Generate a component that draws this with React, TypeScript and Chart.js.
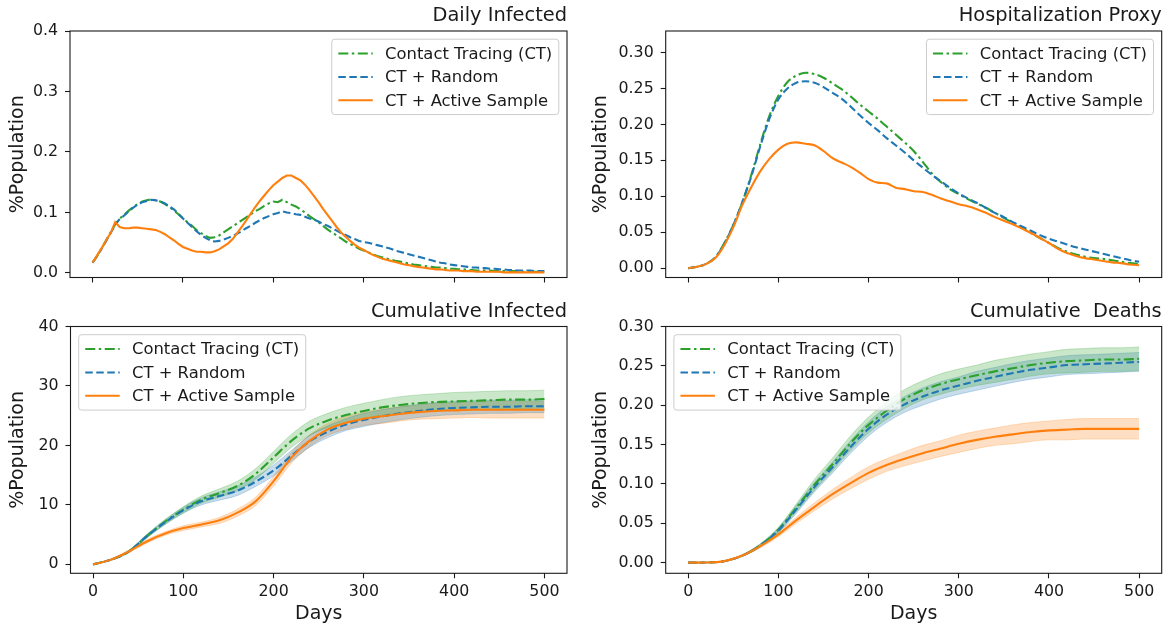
import React, { useEffect, useRef } from "react";
import { Chart, registerables } from "chart.js";

Chart.register(...registerables);

// ---------------- data ----------------
const SERIES_LABELS = ["Contact Tracing (CT)", "CT + Random", "CT + Active Sample"];
const X_TICKS = [0, 100, 200, 300, 400, 500];

const DAYS_5 = [
  0, 5, 10, 15, 20, 25, 30, 35, 40, 45, 50, 55, 60, 65, 70, 75, 80, 85, 90, 95,
  100, 105, 110, 115, 120, 125, 130, 135, 140, 145, 150, 155, 160, 165, 170, 175, 180, 185, 190, 195,
  200, 205, 210, 215, 220, 225, 230, 235, 240, 245, 250, 255, 260, 265, 270, 275, 280, 285, 290, 295,
  300, 305, 310, 315, 320, 325, 330, 335, 340, 345, 350, 355, 360, 365, 370, 375, 380, 385, 390, 395,
  400, 405, 410, 415, 420, 425, 430, 435, 440, 445, 450, 455, 460, 465, 470, 475, 480, 485, 490, 495, 500,
];
const DAYS_10 = [
  0, 10, 20, 30, 40, 50, 60, 70, 80, 90, 100, 110, 120, 130, 140, 150, 160, 170, 180, 190,
  200, 210, 220, 230, 240, 250, 260, 270, 280, 290, 300, 310, 320, 330, 340, 350, 360, 370, 380, 390,
  400, 410, 420, 430, 440, 450, 460, 470, 480, 490, 500,
];
const DAYS_20 = [
  0, 20, 40, 60, 80, 100, 120, 140, 160, 180, 200, 220, 240, 260, 280, 300, 320, 340, 360, 380,
  400, 420, 440, 460, 480, 500,
];

// Daily Infected (%Population), every 5 days
const DI_CT = [
  0.017, 0.028, 0.040, 0.054, 0.067, 0.080, 0.090, 0.096, 0.103, 0.109,
  0.114, 0.118, 0.120, 0.122, 0.120, 0.118, 0.114, 0.109, 0.103, 0.097,
  0.090, 0.084, 0.078, 0.071, 0.066, 0.061, 0.058, 0.059, 0.062, 0.067,
  0.072, 0.077, 0.082, 0.087, 0.092, 0.097, 0.102, 0.106, 0.111, 0.115,
  0.118, 0.117, 0.121, 0.117, 0.113, 0.110, 0.105, 0.100, 0.094, 0.089,
  0.084, 0.078, 0.072, 0.067, 0.062, 0.057, 0.052, 0.048, 0.044, 0.040,
  0.037, 0.034, 0.031, 0.028, 0.026, 0.024, 0.022, 0.020, 0.019, 0.017,
  0.016, 0.014, 0.013, 0.012, 0.011, 0.010, 0.009, 0.009, 0.008, 0.007,
  0.007, 0.006, 0.006, 0.005, 0.005, 0.004, 0.004, 0.004, 0.004, 0.003,
  0.003, 0.003, 0.003, 0.003, 0.003, 0.002, 0.002, 0.002, 0.002, 0.002,
  0.002,
];
const DI_RANDOM = [
  0.017, 0.028, 0.040, 0.053, 0.066, 0.080, 0.089, 0.095, 0.102, 0.108,
  0.113, 0.117, 0.119, 0.121, 0.120, 0.118, 0.115, 0.110, 0.105, 0.098,
  0.090, 0.083, 0.076, 0.069, 0.063, 0.058, 0.054, 0.052, 0.053, 0.055,
  0.058, 0.061, 0.065, 0.069, 0.074, 0.078, 0.083, 0.087, 0.091, 0.094,
  0.097, 0.099, 0.102, 0.100, 0.099, 0.097, 0.096, 0.093, 0.090, 0.088,
  0.085, 0.081, 0.078, 0.074, 0.070, 0.066, 0.063, 0.059, 0.056, 0.053,
  0.051, 0.050, 0.048, 0.046, 0.044, 0.042, 0.040, 0.037, 0.035, 0.033,
  0.031, 0.029, 0.027, 0.025, 0.023, 0.021, 0.019, 0.017, 0.016, 0.014,
  0.013, 0.012, 0.011, 0.010, 0.009, 0.009, 0.008, 0.008, 0.007, 0.007,
  0.006, 0.006, 0.005, 0.005, 0.004, 0.004, 0.004, 0.004, 0.003, 0.003,
  0.003,
];
const DI_ACTIVE = [
  0.017, 0.029, 0.041, 0.054, 0.066, 0.084, 0.076, 0.074, 0.074, 0.075,
  0.075, 0.074, 0.073, 0.072, 0.071, 0.068, 0.064, 0.059, 0.054, 0.048,
  0.043, 0.040, 0.037, 0.035, 0.035, 0.034, 0.034, 0.036, 0.039, 0.044,
  0.049, 0.056, 0.066, 0.076, 0.087, 0.098, 0.109, 0.119, 0.128, 0.137,
  0.145, 0.151, 0.157, 0.161, 0.161, 0.157, 0.153, 0.146, 0.137, 0.127,
  0.117, 0.106, 0.096, 0.086, 0.076, 0.067, 0.060, 0.053, 0.047, 0.042,
  0.038, 0.034, 0.030, 0.027, 0.024, 0.022, 0.020, 0.018, 0.016, 0.014,
  0.013, 0.011, 0.010, 0.009, 0.008, 0.007, 0.006, 0.006, 0.005, 0.004,
  0.004, 0.004, 0.003, 0.003, 0.003, 0.002, 0.002, 0.002, 0.002, 0.002,
  0.002, 0.001, 0.001, 0.001, 0.001, 0.001, 0.001, 0.001, 0.001, 0.001,
  0.001,
];

// Hospitalization Proxy, every 10 days
const HP_CT = [
  0.000, 0.002, 0.006, 0.015, 0.035, 0.060, 0.092, 0.130, 0.173, 0.212,
  0.240, 0.259, 0.268, 0.272, 0.270, 0.265, 0.257, 0.249, 0.239, 0.228,
  0.218, 0.208, 0.197, 0.186, 0.175, 0.163, 0.148, 0.132, 0.120, 0.110,
  0.103, 0.096, 0.090, 0.084, 0.077, 0.070, 0.063, 0.056, 0.049, 0.042,
  0.035, 0.028, 0.023, 0.019, 0.016, 0.014, 0.013, 0.011, 0.009, 0.007,
  0.006,
];
const HP_RANDOM = [
  0.000, 0.002, 0.006, 0.015, 0.034, 0.060, 0.092, 0.128, 0.170, 0.208,
  0.235, 0.250, 0.258, 0.260, 0.258, 0.252, 0.244, 0.236, 0.225, 0.213,
  0.202, 0.192, 0.181, 0.171, 0.161, 0.150, 0.140, 0.130, 0.121, 0.112,
  0.104, 0.097, 0.091, 0.084, 0.077, 0.071, 0.064, 0.058, 0.052, 0.046,
  0.041, 0.037, 0.033, 0.029, 0.026, 0.023, 0.020, 0.017, 0.014, 0.011,
  0.009,
];
const HP_ACTIVE = [
  0.000, 0.002, 0.006, 0.014, 0.032, 0.057, 0.088, 0.113, 0.135, 0.152,
  0.165, 0.173, 0.175, 0.173, 0.171, 0.163, 0.153, 0.147, 0.141, 0.133,
  0.124, 0.119, 0.118, 0.112, 0.110, 0.107, 0.106, 0.102, 0.097, 0.093,
  0.089, 0.086, 0.082, 0.077, 0.071, 0.066, 0.061, 0.055, 0.049, 0.042,
  0.035, 0.027, 0.021, 0.017, 0.014, 0.012, 0.010, 0.008, 0.007, 0.005,
  0.004,
];

// Cumulative Infected, every 20 days (mean and spread)
const CI_CT = [0, 0.8, 2.2, 4.8, 7.2, 9.2, 10.9, 12.0, 13.2, 15.2, 18.0, 20.8, 22.9, 24.2, 25.1, 25.8, 26.4, 26.8, 27.1, 27.3, 27.4, 27.5, 27.6, 27.7, 27.7, 27.8];
const CI_RANDOM = [0, 0.8, 2.2, 4.8, 7.1, 9.1, 10.6, 11.5, 12.4, 13.9, 15.8, 18.3, 20.7, 22.3, 23.5, 24.3, 24.9, 25.4, 25.8, 26.1, 26.3, 26.4, 26.5, 26.5, 26.6, 26.6];
const CI_ACTIVE = [0, 0.8, 2.2, 3.9, 5.2, 6.1, 6.7, 7.4, 8.7, 10.6, 14.0, 18.0, 20.8, 22.7, 23.8, 24.5, 24.9, 25.3, 25.6, 25.8, 25.9, 26.0, 26.0, 26.0, 26.0, 26.0];
const CI_CT_SD = [0, 0.1, 0.2, 0.3, 0.4, 0.5, 0.6, 0.7, 0.8, 0.9, 1.0, 1.1, 1.2, 1.2, 1.3, 1.3, 1.3, 1.4, 1.4, 1.4, 1.5, 1.5, 1.5, 1.5, 1.5, 1.5];
const CI_RANDOM_SD = [0, 0.1, 0.2, 0.3, 0.4, 0.5, 0.6, 0.7, 0.8, 0.8, 0.9, 0.9, 1.0, 1.0, 1.0, 1.1, 1.1, 1.1, 1.1, 1.1, 1.1, 1.1, 1.1, 1.1, 1.1, 1.1];
const CI_ACTIVE_SD = [0, 0.1, 0.2, 0.3, 0.3, 0.4, 0.4, 0.5, 0.6, 0.7, 0.8, 0.9, 1.0, 1.0, 1.1, 1.1, 1.2, 1.2, 1.2, 1.3, 1.3, 1.3, 1.4, 1.4, 1.4, 1.4];

// Cumulative Deaths, every 20 days (mean and spread)
const CD_CT = [0, 0.0002, 0.002, 0.009, 0.022, 0.042, 0.070, 0.099, 0.125, 0.152, 0.175, 0.193, 0.208, 0.219, 0.227, 0.233, 0.238, 0.243, 0.247, 0.251, 0.254, 0.256, 0.257, 0.258, 0.258, 0.259];
const CD_RANDOM = [0, 0.0002, 0.002, 0.009, 0.022, 0.041, 0.068, 0.096, 0.121, 0.147, 0.170, 0.188, 0.201, 0.211, 0.219, 0.225, 0.231, 0.236, 0.241, 0.245, 0.248, 0.251, 0.252, 0.253, 0.254, 0.255];
const CD_ACTIVE = [0, 0.0002, 0.002, 0.009, 0.021, 0.036, 0.054, 0.071, 0.087, 0.101, 0.114, 0.124, 0.132, 0.139, 0.145, 0.151, 0.156, 0.160, 0.163, 0.166, 0.168, 0.169, 0.170, 0.170, 0.170, 0.170];
const CD_CT_SD = [0, 0, 0, 0.001, 0.002, 0.003, 0.005, 0.007, 0.008, 0.009, 0.010, 0.011, 0.012, 0.012, 0.013, 0.013, 0.013, 0.014, 0.014, 0.014, 0.014, 0.015, 0.015, 0.015, 0.015, 0.015];
const CD_RANDOM_SD = [0, 0, 0, 0.001, 0.002, 0.003, 0.005, 0.006, 0.007, 0.008, 0.009, 0.010, 0.010, 0.011, 0.011, 0.011, 0.012, 0.012, 0.012, 0.012, 0.012, 0.012, 0.012, 0.012, 0.012, 0.012];
const CD_ACTIVE_SD = [0, 0, 0, 0.001, 0.002, 0.003, 0.004, 0.005, 0.006, 0.007, 0.008, 0.008, 0.009, 0.010, 0.010, 0.011, 0.011, 0.011, 0.012, 0.012, 0.012, 0.013, 0.013, 0.013, 0.013, 0.013];

const Y_TICKS_DI = [0, 0.1, 0.2, 0.3, 0.4];
const Y_TICKS_HP = [0, 0.05, 0.1, 0.15, 0.2, 0.25, 0.3];
const Y_TICKS_CI = [0, 10, 20, 30, 40];
const Y_TICKS_CD = [0, 0.05, 0.1, 0.15, 0.2, 0.25, 0.3];

// ---------------- style ----------------
const FONT = '"DejaVu Sans", sans-serif';
const TEXT = "#1a1a1a";
const COLORS = ["#2ca02c", "#1f77b4", "#ff7f0e"];
const FILLS = ["rgba(44,160,44,0.25)", "rgba(31,119,180,0.25)", "rgba(255,127,14,0.25)"];
const EDGES = ["rgba(44,160,44,0.35)", "rgba(31,119,180,0.35)", "rgba(255,127,14,0.35)"];
const DASHES: number[][] = [[10, 3.5, 2.5, 3.5], [7.5, 3.5], []];
const TICK_SIZE = 15.8;
const LABEL_SIZE = 19;
const TITLE_SIZE = 19.4;
const LEGEND_SIZE = 16.4;

type PanelCfg = {
  title: string;
  left: number;
  top: number;
  w: number;
  h: number;
  padTop: number;
  padRight: number;
  yWidth: number;
  xHeight: number;
  yMin: number;
  yMax: number;
  yTicks: number[];
  yDec: number;
  days: number[];
  series: number[][];
  spread?: number[][];
  smooth: boolean;
  showX: boolean;
  legendPos: "ur" | "ul";
  titleBaseline: number;
  yTitlePad: number;
};

const PANELS: PanelCfg[] = [
  {
    title: "Daily Infected", left: 0, top: 0, w: 580, h: 300, padTop: 31, padRight: 13,
    yWidth: 70, xHeight: 22.5, yMin: -0.0075, yMax: 0.4, yTicks: Y_TICKS_DI, yDec: 1,
    days: DAYS_5, series: [DI_CT, DI_RANDOM, DI_ACTIVE], smooth: false, showX: false,
    legendPos: "ur", titleBaseline: 21, yTitlePad: 9,
  },
  {
    title: "Hospitalization Proxy", left: 580, top: 0, w: 587, h: 300, padTop: 31, padRight: 5.3,
    yWidth: 85.7, xHeight: 22.5, yMin: -0.013, yMax: 0.33, yTicks: Y_TICKS_HP, yDec: 2,
    days: DAYS_10, series: [HP_CT, HP_RANDOM, HP_ACTIVE], smooth: true, showX: false,
    legendPos: "ur", titleBaseline: 21, yTitlePad: 12,
  },
  {
    title: "Cumulative Infected", left: 0, top: 300, w: 580, h: 327, padTop: 26.5, padRight: 13,
    yWidth: 70.5, xHeight: 53.7, yMin: -1.5, yMax: 40, yTicks: Y_TICKS_CI, yDec: 0,
    days: DAYS_20, series: [CI_CT, CI_RANDOM, CI_ACTIVE], spread: [CI_CT_SD, CI_RANDOM_SD, CI_ACTIVE_SD],
    smooth: true, showX: true, legendPos: "ul", titleBaseline: 17, yTitlePad: 9,
  },
  {
    title: "Cumulative  Deaths", left: 580, top: 300, w: 587, h: 327, padTop: 26.5, padRight: 5.3,
    yWidth: 85.7, xHeight: 53.7, yMin: -0.0135, yMax: 0.3, yTicks: Y_TICKS_CD, yDec: 2,
    days: DAYS_20, series: [CD_CT, CD_RANDOM, CD_ACTIVE], spread: [CD_CT_SD, CD_RANDOM_SD, CD_ACTIVE_SD],
    smooth: true, showX: true, legendPos: "ul", titleBaseline: 17, yTitlePad: 12,
  },
];

function makeDecor(p: PanelCfg) {
  return {
    id: "decor",
    afterDraw(chart: any) {
      const { ctx, chartArea: a } = chart;
      ctx.save();
      // frame
      ctx.setLineDash([]);
      ctx.strokeStyle = TEXT;
      ctx.lineWidth = 1.1;
      ctx.strokeRect(a.left, a.top, a.right - a.left, a.bottom - a.top);
      // title
      ctx.fillStyle = TEXT;
      ctx.font = `${TITLE_SIZE}px ${FONT}`;
      ctx.textAlign = "right";
      ctx.textBaseline = "alphabetic";
      ctx.fillText(p.title, a.right, p.titleBaseline);
      // legend
      const em = LEGEND_SIZE;
      ctx.font = `${em}px ${FONT}`;
      const textW = Math.max(...SERIES_LABELS.map((l) => ctx.measureText(l).width));
      const pad = 0.4 * em, hl = 2.1 * em, htp = 0.75 * em, rowH = 15.5, sp = 0.48 * em;
      const w = pad + hl + htp + textW + pad;
      const h = 2 * pad + 3 * rowH + 2 * sp;
      const axPad = 0.5 * em;
      const x0 = p.legendPos === "ur" ? a.right - axPad - w : a.left + axPad;
      const y0 = a.top + axPad;
      ctx.beginPath();
      const r = 3;
      ctx.moveTo(x0 + r, y0);
      ctx.arcTo(x0 + w, y0, x0 + w, y0 + h, r);
      ctx.arcTo(x0 + w, y0 + h, x0, y0 + h, r);
      ctx.arcTo(x0, y0 + h, x0, y0, r);
      ctx.arcTo(x0, y0, x0 + w, y0, r);
      ctx.closePath();
      ctx.fillStyle = "rgba(255,255,255,0.8)";
      ctx.fill();
      ctx.strokeStyle = "#cccccc";
      ctx.lineWidth = 1;
      ctx.stroke();
      SERIES_LABELS.forEach((lab, i) => {
        const cy = y0 + pad + rowH / 2 + i * (rowH + sp);
        ctx.beginPath();
        ctx.strokeStyle = COLORS[i];
        ctx.lineWidth = 2;
        ctx.setLineDash(DASHES[i]);
        ctx.moveTo(x0 + pad, cy);
        ctx.lineTo(x0 + pad + hl, cy);
        ctx.stroke();
        ctx.setLineDash([]);
        ctx.fillStyle = TEXT;
        ctx.textAlign = "left";
        ctx.textBaseline = "middle";
        ctx.fillText(lab, x0 + pad + hl + htp, cy + 1);
      });
      ctx.restore();
    },
  };
}

function buildConfig(p: PanelCfg): any {
  const datasets: any[] = [];
  const interp = p.smooth ? { cubicInterpolationMode: "monotone" } : { tension: 0 };
  if (p.spread) {
    p.series.forEach((s, i) => {
      const sd = p.spread![i];
      const lowIdx = datasets.length;
      datasets.push({
        data: p.days.map((d, k) => ({ x: d, y: s[k] - sd[k] })),
        borderColor: EDGES[i], borderWidth: 0.7, pointRadius: 0, fill: false, order: 10, ...interp,
      });
      datasets.push({
        data: p.days.map((d, k) => ({ x: d, y: s[k] + sd[k] })),
        borderColor: EDGES[i], borderWidth: 0.7, pointRadius: 0,
        fill: { target: lowIdx }, backgroundColor: FILLS[i], order: 10, ...interp,
      });
    });
  }
  p.series.forEach((s, i) => {
    datasets.push({
      label: SERIES_LABELS[i],
      data: p.days.map((d, k) => ({ x: d, y: s[k] })),
      borderColor: COLORS[i], borderWidth: 2.1, borderDash: DASHES[i],
      pointRadius: 0, fill: false, order: 3 - i, ...interp,
    });
  });

  return {
    type: "line",
    data: { datasets },
    plugins: [makeDecor(p)],
    options: {
      responsive: false,
      animation: false,
      devicePixelRatio: 1,
      events: [],
      layout: { padding: { left: 0, right: p.padRight, top: p.padTop, bottom: 0 } },
      plugins: { legend: { display: false }, tooltip: { enabled: false }, title: { display: false } },
      scales: {
        x: {
          type: "linear",
          min: -25,
          max: 525,
          afterBuildTicks: (s: any) => { s.ticks = X_TICKS.map((v) => ({ value: v })); },
          afterFit: (s: any) => { s.height = p.xHeight; },
          border: { display: false },
          grid: { drawOnChartArea: false, drawTicks: true, tickLength: 5, tickColor: TEXT, tickWidth: 1.1 },
          ticks: {
            display: p.showX, color: TEXT, padding: 6, maxRotation: 0, autoSkip: false,
            font: { family: FONT, size: TICK_SIZE, lineHeight: 1 },
            callback: (v: any) => String(v),
          },
          title: {
            display: p.showX, text: "Days", color: TEXT,
            font: { family: FONT, size: LABEL_SIZE, lineHeight: 1 },
            padding: { top: 0, bottom: 3 },
          },
        },
        y: {
          type: "linear",
          min: p.yMin,
          max: p.yMax,
          afterBuildTicks: (s: any) => { s.ticks = p.yTicks.map((v) => ({ value: v })); },
          afterFit: (s: any) => { s.width = p.yWidth; },
          border: { display: false },
          grid: { drawOnChartArea: false, drawTicks: true, tickLength: 5, tickColor: TEXT, tickWidth: 1.1 },
          ticks: {
            color: TEXT, padding: 7, autoSkip: false,
            font: { family: FONT, size: TICK_SIZE, lineHeight: 1 },
            callback: (v: any) => Number(v).toFixed(p.yDec),
          },
          title: {
            display: true, text: "%Population", color: TEXT,
            font: { family: FONT, size: LABEL_SIZE, lineHeight: 1 },
            padding: { top: p.yTitlePad, bottom: 0 },
          },
        },
      },
    },
  };
}

function Panel({ p }: { p: PanelCfg }) {
  const ref = useRef<HTMLCanvasElement>(null);
  useEffect(() => {
    if (!ref.current) return;
    const chart = new Chart(ref.current, buildConfig(p));
    return () => chart.destroy();
  }, [p]);
  return (
    <canvas
      ref={ref}
      width={p.w}
      height={p.h}
      style={{ position: "absolute", left: p.left, top: p.top, width: p.w, height: p.h }}
    />
  );
}

export default function App() {
  return (
    <div style={{ position: "fixed", left: 0, top: 0, width: 1167, height: 627, background: "#ffffff" }}>
      {PANELS.map((p, i) => (
        <Panel key={i} p={p} />
      ))}
    </div>
  );
}
